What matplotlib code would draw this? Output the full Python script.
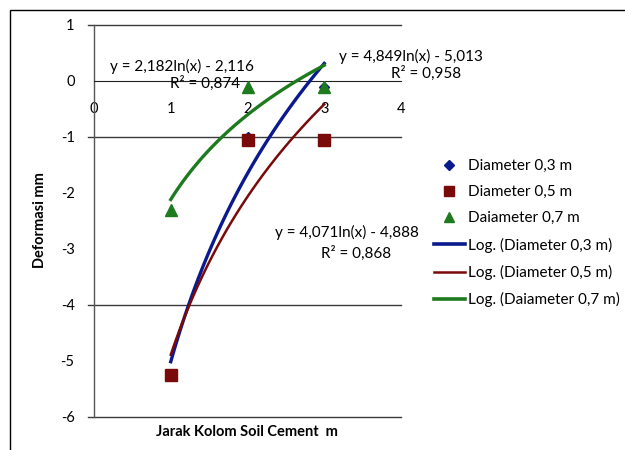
import numpy as np
import matplotlib
matplotlib.use("Agg")
import matplotlib.pyplot as plt
import matplotlib.transforms as mtransforms
from matplotlib.patches import Rectangle
from matplotlib.lines import Line2D

plt.rcParams['font.family'] = ['Lato', 'DejaVu Sans']
plt.rcParams['axes.unicode_minus'] = False

# data
x_vals = [1, 2, 3]
d03 = [-5.25, -1.0, -0.1]
d05 = [-5.25, -1.05, -1.05]
d07 = [-2.3, -0.1, -0.1]
series_labels = ["Diameter 0,3 m", "Diameter 0,5 m", "Daiameter 0,7 m"]
trend_labels = ["Log. (Diameter 0,3 m)", "Log. (Diameter 0,5 m)", "Log. (Daiameter 0,7 m)"]
fit_a = [4.849, 4.071, 2.182]
fit_b = [-5.013, -4.888, -2.116]
grid_vals = [1, -1, -4, -6]
xticks = [0, 1, 2, 3, 4]
yticks = [1, 0, -1, -2, -3, -4, -5, -6]

blue = "#0a1a8c"
red = "#7a0a0a"
green = "#1e7a1e"

fig = plt.figure(figsize=(6.25, 4.5), dpi=100)
ax = fig.add_axes([94/625, 1-417/450, (401-94)/625, (417-25)/450])

# outer frame
fig.patches.append(Rectangle((10/625, -0.05), 1.1, 1-10/450+0.05, transform=fig.transFigure,
                             fill=False, edgecolor="black", linewidth=1.0))

ax.set_xlim(0, 4)
ax.set_ylim(-6, 1)

# gridlines with small outward extension
trans = mtransforms.blended_transform_factory(ax.transAxes, ax.transData)
for g in grid_vals:
    ax.plot([-0.02, 1.0], [g, g], color="#3a3a3a", lw=1.0, transform=trans, clip_on=False, zorder=1)

for s in ['top', 'right']:
    ax.spines[s].set_visible(False)
ax.spines['bottom'].set_position(('data', 0))
ax.spines['bottom'].set_color("#222222")
ax.spines['left'].set_color("#555555")
ax.spines['left'].set_linewidth(1.0)

ax.set_xticks(xticks)
ax.set_yticks(yticks)
ax.tick_params(axis='x', length=0, pad=15, labelsize=10.5)
ax.tick_params(axis='y', length=0, pad=14, labelsize=10.5)

colors = [blue, red, green]
markers = ['D', 's', '^']
msizes = [5.5, 9, 9]
datas = [d03, d05, d07]

xx = np.linspace(1, 3, 100)
for a, b, c in zip(fit_a, fit_b, colors):
    lw = 2.4 if c != red else 1.8
    ax.plot(xx, a*np.log(xx)+b, color=c, lw=lw, zorder=3)

for d, c, m, ms in zip(datas, colors, markers, msizes):
    ax.plot(x_vals, d, linestyle='none', marker=m, color=c, markersize=ms, zorder=4)

# equations
fs = 11
def ftext(px, py, s, ha='center'):
    fig.text(px/625, 1-py/450, s, ha=ha, va='center', fontsize=fs)
ftext(411, 56, "y = 4,849ln(x) - 5,013")
ftext(426, 73, "R² = 0,958")
ftext(347, 232, "y = 4,071ln(x) - 4,888")
ftext(356, 253, "R² = 0,868")
ftext(182, 66, "y = 2,182ln(x) - 2,116")
ftext(205, 83, "R² = 0,874")

fig.text(40/625, 1-220/450, "Deformasi mm", rotation=90, ha='center', va='center',
         fontsize=10.5, fontweight='bold')
fig.text(247/625, 1-432/450, "Jarak Kolom Soil Cement  m", ha='center', va='center',
         fontsize=10.5, fontweight='bold')

handles = []
for c, m, lab in zip(colors, markers, series_labels):
    handles.append(Line2D([], [], linestyle='none', marker=m, color=c,
                          markersize=7 if m != 'D' else 5, label=lab))
for c, lab in zip(colors, trend_labels):
    handles.append(Line2D([], [], color=c, lw=2.6 if c != red else 1.8, label=lab))
fig.legend(handles=handles, loc='center left', bbox_to_anchor=(428/625, 1-233/450),
           frameon=False, fontsize=11, handlelength=2.0, handletextpad=0.2,
           labelspacing=0.8, borderaxespad=0)

fig.savefig("out.png", dpi=100)
